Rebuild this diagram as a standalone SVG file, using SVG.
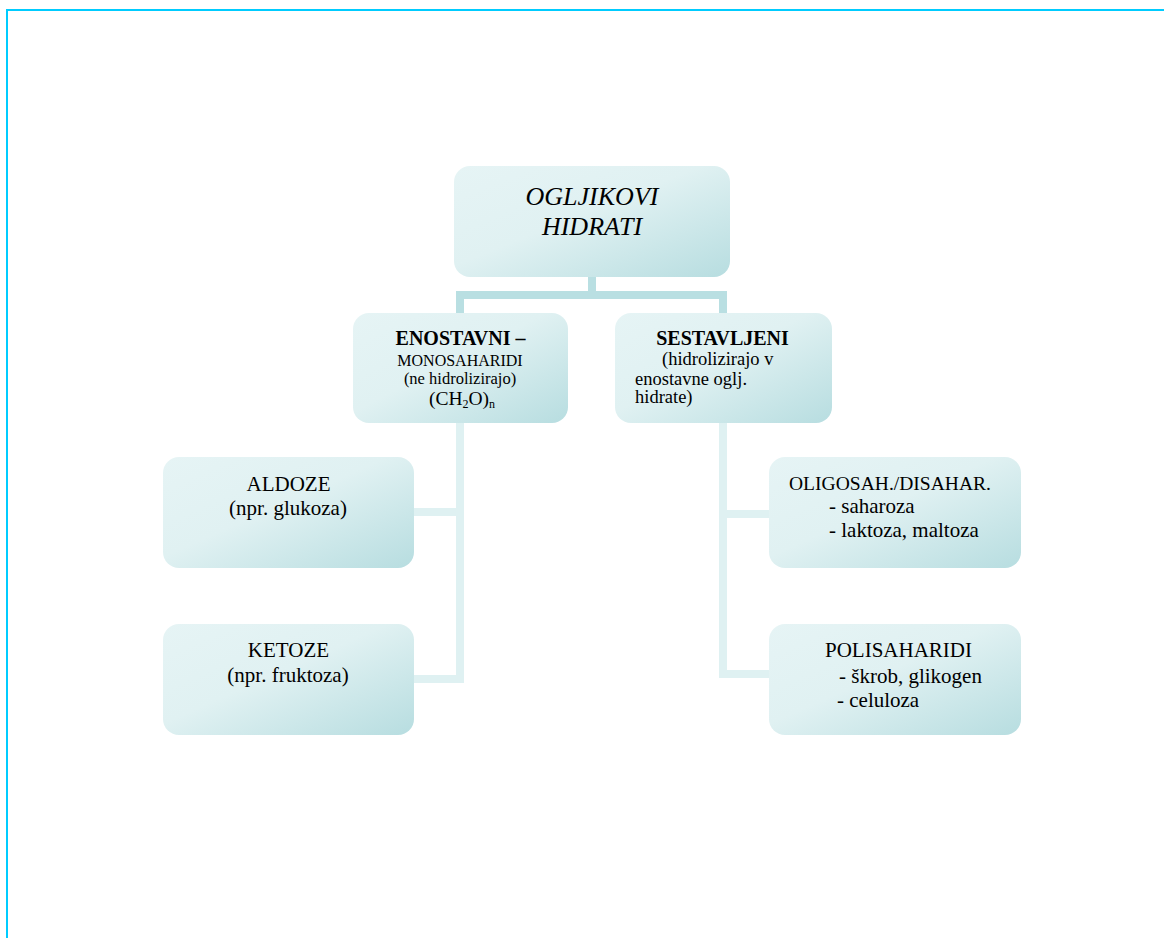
<svg xmlns="http://www.w3.org/2000/svg" width="1164" height="938" viewBox="0 0 1164 938">
<defs>
<linearGradient id="g" x1="0" y1="0" x2="1" y2="1">
<stop offset="0" stop-color="#e6f4f5"/>
<stop offset="0.45" stop-color="#e0f1f2"/>
<stop offset="1" stop-color="#b7dde0"/>
</linearGradient>
<style>
.box{fill:url(#g);}
.t{font-family:"Liberation Serif","Times New Roman",serif;fill:#000;}
.c{text-anchor:middle;}
.top{fill:none;stroke:#b9dfe2;stroke-width:8;}
.low{fill:none;stroke:#dff1f2;stroke-width:8;}
</style>
</defs>
<rect width="1164" height="938" fill="#fff"/>
<path d="M7,938 V10 H1164" fill="none" stroke="#00ccff" stroke-width="2"/>
<g id="connectors">
<path class="top" d="M592,277 V295 M460,313 V295 H723 V313"/>
<path class="low" d="M460,423 V679 H414 M460,512 H414 M723,423 V674 H769 M723,514 H769"/>
</g>
<g id="n-root">
<rect class="box" x="454" y="166" width="276" height="111" rx="16"/>
<text class="t c" x="592" y="205" font-size="26" font-style="italic">OGLJIKOVI</text>
<text class="t c" x="592" y="235" font-size="26" font-style="italic">HIDRATI</text>
</g>
<g id="n-enostavni">
<rect class="box" x="353" y="313" width="215" height="110" rx="16"/>
<text class="t c" x="460.5" y="345" font-size="20" font-weight="bold">ENOSTAVNI –</text>
<text class="t c" x="460" y="366" font-size="16">MONOSAHARIDI</text>
<text class="t c" x="460" y="384" font-size="16.5">(ne hidrolizirajo)</text>
<text class="t c" x="462" y="405" font-size="19.5">(CH<tspan font-size="12" dy="3">2</tspan><tspan dy="-3">O)</tspan><tspan font-size="12" dy="3">n</tspan></text>
</g>
<g id="n-sestavljeni">
<rect class="box" x="615" y="313" width="217" height="110" rx="16"/>
<text class="t c" x="722.5" y="345" font-size="20" font-weight="bold">SESTAVLJENI</text>
<text class="t" x="662" y="365" font-size="18.5">(hidrolizirajo v</text>
<text class="t" x="635" y="385" font-size="18.5">enostavne oglj.</text>
<text class="t" x="635" y="403" font-size="18.5">hidrate)</text>
</g>
<g id="n-aldoze">
<rect class="box" x="163" y="457" width="251" height="111" rx="16"/>
<text class="t c" x="288.5" y="491" font-size="21">ALDOZE</text>
<text class="t c" x="288" y="515" font-size="21">(npr. glukoza)</text>
</g>
<g id="n-ketoze">
<rect class="box" x="163" y="624" width="251" height="111" rx="16"/>
<text class="t c" x="288.5" y="657" font-size="21">KETOZE</text>
<text class="t c" x="288" y="682" font-size="21">(npr. fruktoza)</text>
</g>
<g id="n-oligo">
<rect class="box" x="769" y="457" width="252" height="111" rx="16"/>
<text class="t" x="789" y="490" font-size="19" textLength="202" lengthAdjust="spacingAndGlyphs">OLIGOSAH./DISAHAR.</text>
<text class="t" x="829" y="513" font-size="21">- saharoza</text>
<text class="t" x="829" y="537" font-size="21">- laktoza, maltoza</text>
</g>
<g id="n-poli">
<rect class="box" x="769" y="624" width="252" height="111" rx="16"/>
<text class="t" x="825" y="657" font-size="21">POLISAHARIDI</text>
<text class="t" x="839" y="683" font-size="21">- škrob, glikogen</text>
<text class="t" x="837" y="707" font-size="21">- celuloza</text>
</g>
</svg>
